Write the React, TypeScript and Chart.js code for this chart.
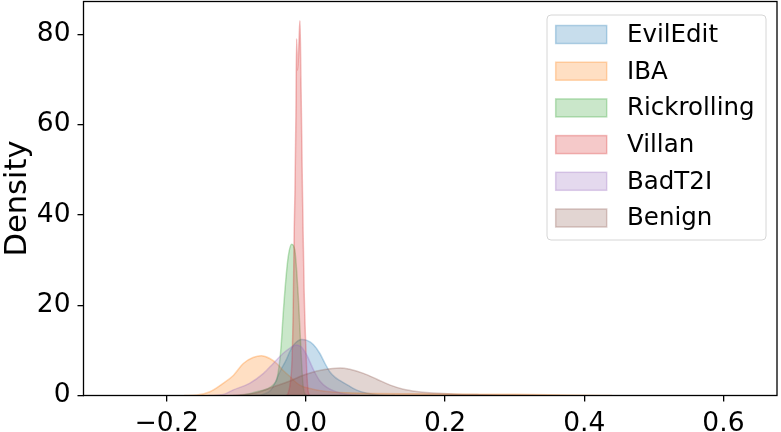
import { useEffect, useRef } from "react";
import { Chart, registerables } from "chart.js";
Chart.register(...registerables);

const seriesNames = ["EvilEdit", "IBA", "Rickrolling", "Villan", "BadT2I", "Benign"];
const seriesRgb = ["31,119,180", "255,127,14", "44,160,44", "214,39,40", "148,103,189", "140,86,75"];

const evilEditX = [-0.075, -0.063, -0.049, -0.037, -0.028, -0.023, -0.016, -0.006, 0.0015, 0.0105, 0.02, 0.027, 0.0345, 0.042, 0.049, 0.06, 0.073, 0.088, 0.106, 0.128];
const evilEditY = [0, 0.2, 1.5, 5.4, 8.0, 9.8, 11.5, 12.4, 12.2, 11.3, 9.3, 7.2, 5.2, 4.0, 3.3, 2.3, 1.2, 0.5, 0.1, 0];

const ibaX = [-0.175, -0.157, -0.138, -0.119, -0.104, -0.09, -0.076, -0.064, -0.052, -0.042, -0.033, -0.023, -0.009, 0.01, 0.03, 0.06, 0.1, 0.15, 0.2, 0.3, 0.35, 0.4, 0.44];
const ibaY = [0, 0.1, 0.84, 2.7, 4.5, 7.1, 8.4, 8.8, 8.2, 7.1, 5.6, 4.2, 2.3, 1.4, 0.9, 0.6, 0.45, 0.38, 0.33, 0.25, 0.18, 0.06, 0];

const rickX = [-0.095, -0.081, -0.066, -0.055, -0.046, -0.042, -0.04, -0.037, -0.035, -0.033, -0.029, -0.0255, -0.0206, -0.016, -0.0134, -0.011, -0.0086, -0.0062, -0.0039, -0.0014, 0.0014];
const rickY = [0, 0.4, 1.0, 1.5, 2.5, 3.5, 5.0, 8.6, 12.5, 17.4, 25.5, 30.7, 33.5, 32.2, 27.7, 21.8, 14.5, 7.1, 1.9, 0.3, 0];

const villanX = [-0.0288, -0.0255, -0.0223, -0.02, -0.0183, -0.0168, -0.0158, -0.0144, -0.0134, -0.0122, -0.0108, -0.0096, -0.0086, -0.0072, -0.005, -0.0036, -0.0024, 0.0, 0.002, 0.0033, 0.0058];
const villanY = [0, 0.5, 3, 8, 19, 37, 45, 62, 79, 72, 75, 80, 83, 70, 45, 32, 22, 10, 3, 0.8, 0];

const badT2IX = [-0.14, -0.119, -0.105, -0.081, -0.061, -0.047, -0.033, -0.023, -0.014, -0.007, 0.001, 0.0105, 0.02, 0.03, 0.044, 0.0585, 0.078];
const badT2IY = [0, 0.2, 1.2, 2.7, 4.9, 7.1, 9.3, 10.5, 11.2, 10.8, 9.0, 5.8, 3.2, 1.8, 0.8, 0.3, 0];

const benignX = [-0.109, -0.088, -0.071, -0.047, -0.023, -0.0086, 0.006, 0.025, 0.049, 0.063, 0.0825, 0.102, 0.121, 0.14, 0.159, 0.178, 0.1975, 0.217, 0.2455, 0.279, 0.322, 0.365];
const benignY = [0, 0.2, 0.6, 1.9, 3.2, 4.2, 5.0, 5.7, 6.1, 5.8, 4.9, 3.6, 2.3, 1.4, 0.9, 0.6, 0.45, 0.3, 0.2, 0.1, 0.03, 0];

const xTicks = [-0.2, 0.0, 0.2, 0.4, 0.6];
const yTicks = [0, 20, 40, 60, 80];
const xRange = [-0.3197, 0.677];
const yRange = [0, 87.25];
const yTitle = "Density";

const seriesX = [evilEditX, ibaX, rickX, villanX, badT2IX, benignX];
const seriesY = [evilEditY, ibaY, rickY, villanY, badT2IY, benignY];

const FONT = "'DejaVu Sans', sans-serif";

const boxPlugin = {
  id: "axesBox",
  afterDatasetsDraw(chart: any) {
    const { ctx, chartArea: a } = chart;
    ctx.save();
    ctx.strokeStyle = "#000";
    ctx.lineWidth = 1.3;
    ctx.strokeRect(a.left, a.top, a.right - a.left, a.bottom - a.top);
    ctx.restore();
  },
};

const legendPlugin = {
  id: "mplLegend",
  afterDraw(chart: any) {
    const { ctx } = chart;
    ctx.save();
    const bx = 547, by = 15, bw = 219, bh = 225, r = 4;
    ctx.beginPath();
    ctx.moveTo(bx + r, by);
    ctx.lineTo(bx + bw - r, by);
    ctx.quadraticCurveTo(bx + bw, by, bx + bw, by + r);
    ctx.lineTo(bx + bw, by + bh - r);
    ctx.quadraticCurveTo(bx + bw, by + bh, bx + bw - r, by + bh);
    ctx.lineTo(bx + r, by + bh);
    ctx.quadraticCurveTo(bx, by + bh, bx, by + bh - r);
    ctx.lineTo(bx, by + r);
    ctx.quadraticCurveTo(bx, by, bx + r, by);
    ctx.closePath();
    ctx.fillStyle = "rgba(255,255,255,0.8)";
    ctx.fill();
    ctx.strokeStyle = "#d6d6d6";
    ctx.lineWidth = 1;
    ctx.stroke();
    ctx.font = `24.5px ${FONT}`;
    ctx.textBaseline = "middle";
    ctx.textAlign = "left";
    seriesNames.forEach((name, i) => {
      const cy = 34.5 + i * 36.7;
      ctx.fillStyle = `rgba(${seriesRgb[i]},0.25)`;
      ctx.fillRect(555.7, cy - 9, 51, 18);
      ctx.strokeStyle = `rgba(${seriesRgb[i]},0.3)`;
      ctx.lineWidth = 1.5;
      ctx.strokeRect(555.7, cy - 9, 51, 18);
      ctx.fillStyle = "#000";
      ctx.fillText(name, 627, cy + 1);
    });
    ctx.restore();
  },
};

export default function App() {
  const ref = useRef<HTMLCanvasElement>(null);
  useEffect(() => {
    document.body.style.margin = "0";
    const canvas = ref.current!;
    const chart = new Chart(canvas, {
      type: "line",
      data: {
        datasets: seriesNames.map((name, i) => ({
          label: name,
          data: seriesX[i].map((x, j) => ({ x, y: seriesY[i][j] })),
          fill: "origin",
          backgroundColor: `rgba(${seriesRgb[i]},0.25)`,
          borderColor: `rgba(${seriesRgb[i]},0.3)`,
          borderWidth: 1.5,
          pointRadius: 0,
          cubicInterpolationMode: "monotone",
          order: seriesNames.length - i,
        })),
      },
      options: {
        animation: false,
        responsive: false,
        devicePixelRatio: 1,
        layout: { padding: { top: 1.5, right: 4, left: 0, bottom: 0 } },
        plugins: { legend: { display: false }, tooltip: { enabled: false } },
        scales: {
          x: {
            type: "linear",
            min: xRange[0],
            max: xRange[1],
            afterBuildTicks: (s: any) => { s.ticks = xTicks.map((v) => ({ value: v })); },
            afterFit: (s: any) => { s.height = 36.5; s.paddingLeft = 0; s.paddingRight = 0; },
            ticks: {
              color: "#000",
              font: { family: FONT, size: 26.5 },
              padding: 7,
              maxRotation: 0,
              callback: (v: any) => (v < 0 ? "\u2212" + Math.abs(v).toFixed(1) : Number(v).toFixed(1)),
            },
            grid: { drawOnChartArea: false, drawTicks: true, tickLength: 6, color: "#000", lineWidth: 1.3 },
            border: { display: false },
          },
          y: {
            type: "linear",
            min: yRange[0],
            max: yRange[1],
            afterBuildTicks: (s: any) => { s.ticks = yTicks.map((v) => ({ value: v })); },
            afterFit: (s: any) => { s.width = 83.5; s.paddingTop = 0; s.paddingBottom = 0; },
            ticks: { color: "#000", font: { family: FONT, size: 26.5 }, padding: 7 },
            grid: { drawOnChartArea: false, drawTicks: true, tickLength: 6, color: "#000", lineWidth: 1.3 },
            border: { display: false },
            title: { display: true, text: yTitle, color: "#000", font: { family: FONT, size: 30.5 }, padding: 0 },
          },
        },
      },
      plugins: [boxPlugin, legendPlugin],
    });
    return () => chart.destroy();
  }, []);
  return (
    <div style={{ width: 781, height: 432 }}>
      <canvas ref={ref} width={781} height={432} style={{ display: "block" }} />
    </div>
  );
}
